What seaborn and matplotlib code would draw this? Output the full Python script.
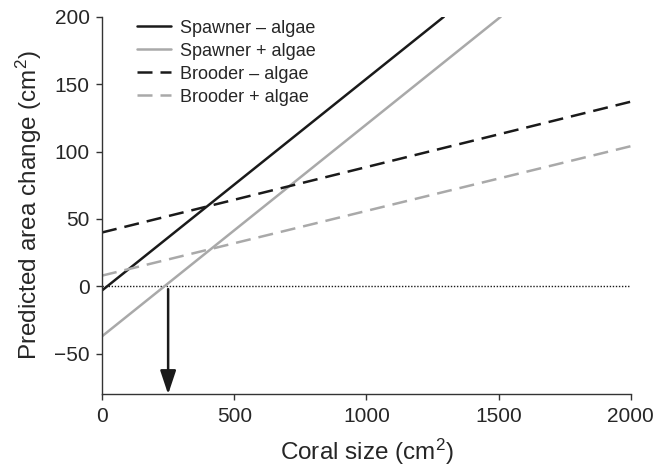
import numpy as np
import pandas as pd
import seaborn as sns
import matplotlib.pyplot as plt

# Endpoints of the predicted lines
series_names = ["Spawner – algae", "Spawner + algae", "Brooder – algae", "Brooder + algae"]
x_start = [0, 0, 0, 0]
x_end = [1293, 1508, 2000, 2000]
y_start = [-3, -37, 40, 8]
y_end = [200, 200, 137, 104]
threshold_size = 250

xticks = [0, 500, 1000, 1500, 2000]
yticks = [-50, 0, 50, 100, 150, 200]

BLACK = "#1a1a1a"
GRAY = "#a9a9a9"
colors = [BLACK, GRAY, BLACK, GRAY]
dash_list = ["", "", (6, 3.2), (6, 3.2)]

sns.set_theme(style="ticks")
plt.rcParams["font.family"] = ["Liberation Sans", "DejaVu Sans"]
plt.rcParams["mathtext.default"] = "regular"

rows = []
for name, x0, x1, y0, y1 in zip(series_names, x_start, x_end, y_start, y_end):
    rows.append({"serie": name, "x": x0, "y": y0})
    rows.append({"serie": name, "x": x1, "y": y1})
df = pd.DataFrame(rows)

fig = plt.figure(figsize=(6.69, 4.68), dpi=100)
ax = fig.add_axes([0.1525, 0.1575, 0.7905, 0.8068])

sns.lineplot(
    data=df, x="x", y="y", hue="serie", style="serie",
    hue_order=series_names, style_order=series_names,
    palette=colors, dashes=dash_list, linewidth=1.8, ax=ax,
)

# linha de referência em zero e seta do tamanho limiar
ax.axhline(0, color=BLACK, linestyle=(0, (1, 1.2)), linewidth=1.0, zorder=1)
ax.annotate(
    "", xy=(threshold_size, -80), xytext=(threshold_size, -2),
    arrowprops=dict(arrowstyle="-|>,head_width=0.4,head_length=1.2",
                    color=BLACK, lw=1.8, shrinkA=0, shrinkB=0),
)

ax.set_xlim(0, 2000)
ax.set_ylim(-80, 200)
ax.set_xticks(xticks)
ax.set_yticks(yticks)
ax.set_xticklabels([str(t) for t in xticks])
ax.set_yticklabels([str(t).replace("-", "−") for t in yticks])
ax.tick_params(labelsize=15, length=4, width=1, color="#333333", pad=5)
for s in ["left", "bottom"]:
    ax.spines[s].set_color("#333333")
    ax.spines[s].set_linewidth(1)
sns.despine(ax=ax)

ax.set_xlabel("Coral size (cm$^2$)", fontsize=17.5, labelpad=8)
ax.set_ylabel("Predicted area change (cm$^2$)", fontsize=17.5, labelpad=7)

leg = ax.legend(
    loc="upper left", bbox_to_anchor=(0.035, 1.035), frameon=False,
    fontsize=13, handlelength=1.9, labelspacing=0.33, handletextpad=0.5,
)
leg.set_title(None)

fig.savefig("out.png", dpi=100)
